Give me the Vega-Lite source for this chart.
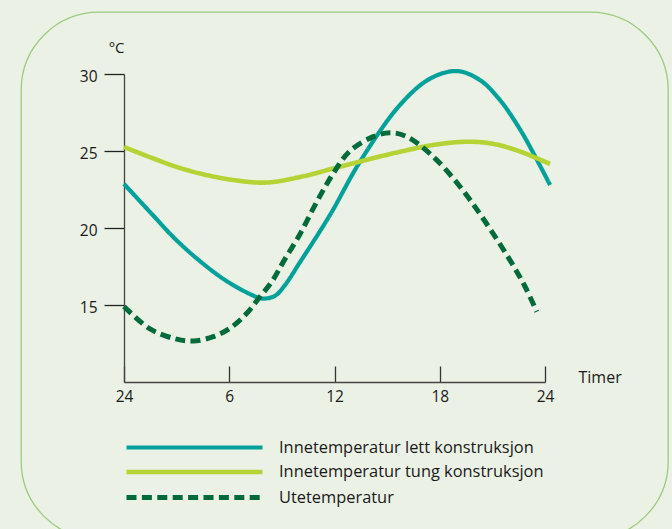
{
  "$schema": "https://vega.github.io/schema/vega-lite/v6.json",
  "width": 647,
  "height": 527,
  "autosize": {"type": "none"},
  "padding": {"left": 21, "top": 12, "right": 4, "bottom": -10},
  "background": "#EBF1E5",
  "config": {
    "font": "Open Sans",
    "view": {"stroke": "#9CCB7F", "strokeWidth": 1.3, "cornerRadius": 78, "fill": "#EBF1E5"}
  },
  "data": {
    "values": [
      {"series": "Innetemperatur lett konstruksjon", "hour": 0, "temp": 22.86},
      {"series": "Innetemperatur lett konstruksjon", "hour": 1.48, "temp": 21.04},
      {"series": "Innetemperatur lett konstruksjon", "hour": 2.91, "temp": 19.3},
      {"series": "Innetemperatur lett konstruksjon", "hour": 4.33, "temp": 17.85},
      {"series": "Innetemperatur lett konstruksjon", "hour": 5.76, "temp": 16.62},
      {"series": "Innetemperatur lett konstruksjon", "hour": 7.18, "temp": 15.71},
      {"series": "Innetemperatur lett konstruksjon", "hour": 7.87, "temp": 15.42},
      {"series": "Innetemperatur lett konstruksjon", "hour": 8.61, "temp": 15.6},
      {"series": "Innetemperatur lett konstruksjon", "hour": 9.18, "temp": 16.3},
      {"series": "Innetemperatur lett konstruksjon", "hour": 10.04, "temp": 17.79},
      {"series": "Innetemperatur lett konstruksjon", "hour": 11.74, "temp": 20.84},
      {"series": "Innetemperatur lett konstruksjon", "hour": 13.45, "temp": 24.3},
      {"series": "Innetemperatur lett konstruksjon", "hour": 15.74, "temp": 28.0},
      {"series": "Innetemperatur lett konstruksjon", "hour": 17.45, "temp": 29.7},
      {"series": "Innetemperatur lett konstruksjon", "hour": 18.99, "temp": 30.19},
      {"series": "Innetemperatur lett konstruksjon", "hour": 20.3, "temp": 29.6},
      {"series": "Innetemperatur lett konstruksjon", "hour": 21.44, "temp": 28.3},
      {"series": "Innetemperatur lett konstruksjon", "hour": 22.58, "temp": 26.4},
      {"series": "Innetemperatur lett konstruksjon", "hour": 23.32, "temp": 24.9},
      {"series": "Innetemperatur lett konstruksjon", "hour": 24.29, "temp": 22.79},
      {"series": "Innetemperatur tung konstruksjon", "hour": 0, "temp": 25.26},
      {"series": "Innetemperatur tung konstruksjon", "hour": 1.48, "temp": 24.6},
      {"series": "Innetemperatur tung konstruksjon", "hour": 2.91, "temp": 24.0},
      {"series": "Innetemperatur tung konstruksjon", "hour": 4.33, "temp": 23.54},
      {"series": "Innetemperatur tung konstruksjon", "hour": 6.21, "temp": 23.12},
      {"series": "Innetemperatur tung konstruksjon", "hour": 8.1, "temp": 22.95},
      {"series": "Innetemperatur tung konstruksjon", "hour": 10.03, "temp": 23.31},
      {"series": "Innetemperatur tung konstruksjon", "hour": 11.92, "temp": 23.86},
      {"series": "Innetemperatur tung konstruksjon", "hour": 13.8, "temp": 24.42},
      {"series": "Innetemperatur tung konstruksjon", "hour": 15.74, "temp": 24.95},
      {"series": "Innetemperatur tung konstruksjon", "hour": 17.62, "temp": 25.39},
      {"series": "Innetemperatur tung konstruksjon", "hour": 19.5, "temp": 25.6},
      {"series": "Innetemperatur tung konstruksjon", "hour": 20.87, "temp": 25.5},
      {"series": "Innetemperatur tung konstruksjon", "hour": 22.35, "temp": 25.06},
      {"series": "Innetemperatur tung konstruksjon", "hour": 24.29, "temp": 24.16},
      {"series": "Utetemperatur", "hour": 0, "temp": 14.9},
      {"series": "Utetemperatur", "hour": 1.48, "temp": 13.45},
      {"series": "Utetemperatur", "hour": 3.0, "temp": 12.78},
      {"series": "Utetemperatur", "hour": 3.95, "temp": 12.66},
      {"series": "Utetemperatur", "hour": 5.09, "temp": 12.94},
      {"series": "Utetemperatur", "hour": 6.04, "temp": 13.49},
      {"series": "Utetemperatur", "hour": 7.0, "temp": 14.46},
      {"series": "Utetemperatur", "hour": 7.75, "temp": 15.54},
      {"series": "Utetemperatur", "hour": 8.42, "temp": 16.5},
      {"series": "Utetemperatur", "hour": 9.08, "temp": 17.8},
      {"series": "Utetemperatur", "hour": 10.03, "temp": 19.6},
      {"series": "Utetemperatur", "hour": 10.99, "temp": 21.7},
      {"series": "Utetemperatur", "hour": 11.93, "temp": 23.55},
      {"series": "Utetemperatur", "hour": 12.88, "temp": 25.0},
      {"series": "Utetemperatur", "hour": 14.21, "temp": 25.93},
      {"series": "Utetemperatur", "hour": 15.17, "temp": 26.19},
      {"series": "Utetemperatur", "hour": 16.12, "temp": 25.93},
      {"series": "Utetemperatur", "hour": 17.63, "temp": 24.63},
      {"series": "Utetemperatur", "hour": 19.16, "temp": 22.68},
      {"series": "Utetemperatur", "hour": 20.48, "temp": 20.6},
      {"series": "Utetemperatur", "hour": 22.01, "temp": 17.9},
      {"series": "Utetemperatur", "hour": 22.86, "temp": 16.2},
      {"series": "Utetemperatur", "hour": 23.53, "temp": 14.56}
    ]
  },
  "mark": {"type": "line", "interpolate": "catmull-rom", "strokeCap": "butt", "clip": false},
  "encoding": {
    "x": {
      "field": "hour",
      "type": "quantitative",
      "scale": {"domain": [0, 24], "range": [103, 524], "nice": false, "zero": false},
      "axis": {
        "orient": "bottom",
        "offset": -157,
        "values": [0, 6, 12, 18, 24],
        "labelExpr": "datum.value == 0 ? '24' : datum.label",
        "tickSize": -16,
        "tickWidth": 1.3,
        "tickColor": "#333333",
        "domainColor": "#444444",
        "domainWidth": 1.3,
        "labelPadding": 23,
        "labelFlush": false,
        "labelFontSize": 15.5,
        "labelColor": "#1a1a1a",
        "grid": false,
        "title": "Timer",
        "titleFontSize": 16,
        "titleFontWeight": "normal",
        "titleColor": "#1a1a1a",
        "titleX": 557,
        "titleY": 0,
        "titleAlign": "left",
        "titleBaseline": "alphabetic"
      }
    },
    "y": {
      "field": "temp",
      "type": "quantitative",
      "scale": {"domain": [10, 30], "range": [370, 62], "nice": false, "zero": false},
      "axis": {
        "orient": "left",
        "offset": -103,
        "values": [15, 20, 25, 30],
        "tickSize": 20,
        "tickWidth": 1.3,
        "tickColor": "#222222",
        "domainColor": "#444444",
        "domainWidth": 1.3,
        "labelPadding": 7,
        "labelOffset": 2,
        "labelFlush": false,
        "labelFontSize": 15.5,
        "labelColor": "#1a1a1a",
        "grid": false,
        "title": "°C",
        "titleAngle": 0,
        "titleFontSize": 15,
        "titleFontWeight": "normal",
        "titleColor": "#1a1a1a",
        "titleX": 0,
        "titleY": 40,
        "titleAlign": "right",
        "titleBaseline": "alphabetic"
      }
    },
    "color": {
      "field": "series",
      "type": "nominal",
      "scale": {
        "domain": ["Innetemperatur lett konstruksjon", "Innetemperatur tung konstruksjon", "Utetemperatur"],
        "range": ["#00A19A", "#B5D334", "#006B3A"]
      },
      "legend": {
        "orient": "none",
        "legendX": 101,
        "legendY": 423,
        "title": null,
        "padding": 0,
        "symbolType": "M-0.8,0H12.8",
        "symbolSize": 400,
        "symbolStrokeWidth": 4.5,
        "labelFontSize": 16.4,
        "labelColor": "#1a1a1a",
        "labelOffset": 132,
        "labelLimit": 400,
        "rowPadding": 3.5
      }
    },
    "strokeDash": {
      "field": "series",
      "type": "nominal",
      "scale": {
        "domain": ["Innetemperatur lett konstruksjon", "Innetemperatur tung konstruksjon", "Utetemperatur"],
        "range": [[1, 0], [1, 0], [10, 5.4]]
      },
      "legend": {
        "orient": "none",
        "legendX": 101,
        "legendY": 423,
        "title": null,
        "padding": 0,
        "symbolType": "M-0.8,0H12.8",
        "symbolSize": 400,
        "symbolStrokeWidth": 4.5,
        "labelFontSize": 16.4,
        "labelColor": "#1a1a1a",
        "labelOffset": 132,
        "labelLimit": 400,
        "rowPadding": 3.5
      }
    },
    "strokeWidth": {
      "field": "series",
      "type": "nominal",
      "scale": {
        "domain": ["Innetemperatur lett konstruksjon", "Innetemperatur tung konstruksjon", "Utetemperatur"],
        "range": [4.2, 5, 4.5]
      },
      "legend": null
    }
  }
}
